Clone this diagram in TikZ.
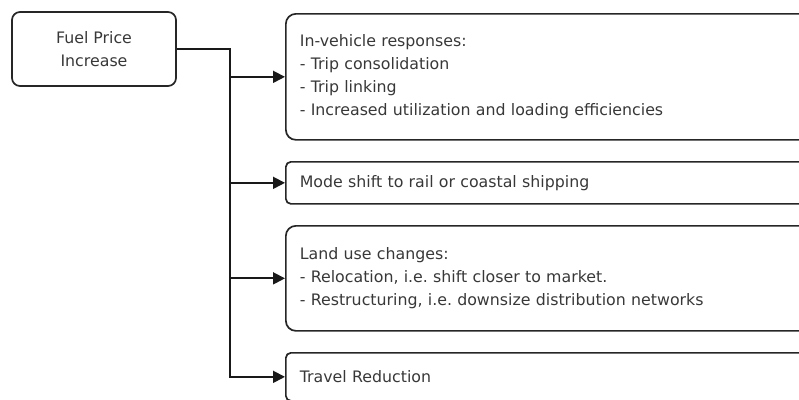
\documentclass[tikz,border=0pt]{standalone}
\usepackage{fontspec}
\setmainfont{DejaVu Sans}
\usetikzlibrary{arrows.meta}
\frenchspacing

\tikzset{
  txt/.style={text=black!78, font=\fontsize{15.8}{23}\selectfont},
  cause/.style={txt, draw=black!85, line width=1.7pt, rounded corners=8pt,
    align=center, minimum width=164pt, minimum height=74pt},
  effect/.style={txt, draw=black!85, line width=1.7pt, rounded corners=10pt,
    anchor=north west, align=left, text width=540pt, inner xsep=14pt},
  flow/.style={line width=1.8pt, draw=black!90, -{Triangle[length=12pt,width=12pt]}}
}

\begin{document}
\begin{tikzpicture}[x=1pt, y=-1pt]
  \useasboundingbox (0,0) rectangle (799,399);
  \clip (0,0) rectangle (799,399);

  \node[cause] (fuel) at (94,49) {Fuel Price\\Increase};

  \node[effect, minimum height=126pt] (invehicle) at (285,13)
    {In-vehicle responses:\\- Trip consolidation\\- Trip linking\\- Increased utilization and loading efficiencies\\[4pt]};
  \node[effect, minimum height=42pt, rounded corners=5pt] (mode) at (285,161)
    {Mode shift to rail or coastal shipping};
  \node[effect, minimum height=105pt] (landuse) at (285,225)
    {Land use changes:\\- Relocation, i.e. shift closer to market.\\- Restructuring, i.e. downsize distribution networks\\[6pt]};
  \node[effect, minimum height=48pt, rounded corners=5pt] (travel) at (285,352)
    {Travel Reduction};

  \coordinate (split) at (230,0);

  \draw[flow] (fuel.east) -| (split |- travel.west) -- (travel.west);
  \foreach \b in {invehicle, mode, landuse}
    \draw[flow] (split |- \b.west) -- (\b.west);
\end{tikzpicture}
\end{document}
